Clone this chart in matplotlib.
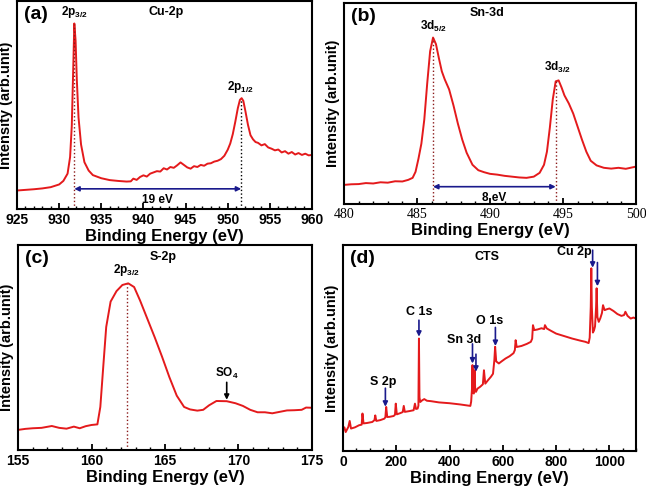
import numpy as np
import matplotlib.pyplot as plt
from matplotlib.ticker import MultipleLocator

plt.rcParams["font.family"] = "Liberation Sans"
plt.rcParams["font.weight"] = "bold"
plt.rcParams["mathtext.fontset"] = "custom"
plt.rcParams["mathtext.rm"] = "Liberation Sans:bold"
plt.rcParams["mathtext.bf"] = "Liberation Sans:bold"
plt.rcParams["mathtext.default"] = "bf"

# (a) Cu-2p
cu_x = [925, 926, 927, 928, 929, 930, 930.5, 931, 931.3, 931.5, 931.7, 931.8, 931.95, 932.1, 932.3, 932.6,
        933, 933.5, 934, 935, 936, 937, 938, 938.5, 938.8, 939.2, 939.6, 940, 940.4, 940.8, 941.2, 941.6,
        942, 942.4, 942.8, 943.2, 943.6, 944, 944.4, 944.8, 945.2, 945.6, 946, 946.4, 946.8, 947.2, 947.6,
        948, 948.4, 948.8, 949.2, 949.6, 950, 950.3, 950.6, 950.9, 951.2, 951.45, 951.65, 951.85, 952.1,
        952.4, 952.7, 953, 953.3, 953.6, 954, 954.4, 954.8, 955.2, 955.6, 956, 956.4, 956.8, 957.2, 957.6,
        958, 958.4, 958.8, 959.2, 959.6, 960]
cu_y = [8.9, 9.2, 9.5, 9.9, 10.5, 11.8, 13.5, 17, 25, 40, 72, 89.2, 81, 62, 44, 31,
        22.5, 18.5, 16.3, 14.8, 13.9, 13.5, 13.2, 13.3, 14.6, 14.0, 15.4, 16.2, 15.6, 17.0, 17.6, 18.2,
        18.0, 19.6, 19.0, 20.2, 19.8, 21.0, 22.4, 21.2, 20.0, 19.4, 20.6, 20.2, 21.2, 20.8, 21.8,
        22.0, 22.8, 23.2, 24.0, 25.6, 28.5, 31.5, 36, 42, 48.5, 52.5, 53.3, 52.0, 47,
        40.5, 35.5, 33.5, 32.2, 31.8, 30.6, 31.2, 29.6, 29.0, 28.2, 28.6, 27.2, 27.8, 26.6, 27.4,
        26.2, 26.9, 26.0, 26.6, 25.8, 26.0]

# (b) Sn-3d
sn_x = [480, 480.5, 481, 481.5, 482, 482.5, 483, 483.5, 484, 484.4, 484.7, 484.9, 485.1, 485.3, 485.5,
        485.7, 485.9, 486.1, 486.3, 486.5, 486.7, 486.9, 487.2, 487.5, 487.8, 488.1, 488.4, 488.8, 489.2,
        489.6, 490, 490.5, 491, 491.5, 492, 492.5, 493, 493.4, 493.7, 493.9, 494.1, 494.3, 494.5, 494.7,
        494.9, 495.1, 495.4, 495.7, 496, 496.3, 496.6, 496.9, 497.3, 497.8, 498.3, 498.8, 499.3, 500]
sn_y = [9.5, 9.8, 9.9, 10.4, 10.2, 10.8, 10.6, 11.3, 11.2, 12.0, 13.0, 16.0, 22.5, 30.0, 42,
        60, 76, 82.8, 79.5, 72.5, 66, 62, 57, 49, 40, 32, 25.5, 19.5, 16.8,
        15.8, 15.0, 14.6, 14.0, 13.6, 13.2, 13.0, 13.6, 15.5, 19.5, 26, 38, 52, 61, 61.5,
        58, 54, 50, 45, 38.5, 32, 26, 21.5, 19.2, 18.0, 17.6, 18.0, 17.5, 18.6]

# (c) S-2p
s_x = [155, 155.5, 156, 156.6, 157.3, 157.8, 158.3, 158.8, 159.2, 159.6, 160, 160.4, 160.6, 160.8, 161,
       161.3, 161.7, 162.1, 162.5, 162.9, 163.3, 163.8, 164.3, 164.8, 165.3, 165.8, 166.3, 166.7, 167.2,
       167.6, 168, 168.5, 169.2, 169.8, 170.3, 170.8, 171.3, 171.8, 172.3, 172.8, 173.3, 173.8, 174.3,
       174.6, 175]
s_y = [9.8, 10.3, 10.6, 10.8, 11.7, 10.8, 10.4, 11.4, 10.6, 11.6, 12.2, 12.5, 21, 40.7, 60,
       72.4, 77.5, 80.5, 81.3, 79.5, 73, 64, 55, 45.5, 35.5, 26.5, 21, 19.8, 19.2,
       19.6, 21.8, 23.9, 23.8, 22.8, 21.5, 19.6, 18.4, 18.4, 17.9, 18.6, 19.3, 19.4, 19.6,
       20.7, 20.6]

# (d) survey
cts_x = [0, 5, 10, 20, 25, 30, 45, 60, 70, 73, 77, 90, 110, 118, 121, 125, 140, 155, 159, 162, 166, 175,
         190, 195, 198, 202, 215, 224, 228, 232, 250, 265, 270, 274, 280, 283, 285, 287, 290, 297, 305,
         315, 330, 360, 400, 440, 478, 481, 484, 486, 488, 491, 494, 496, 499, 505, 515, 525, 529, 531,
         534, 545, 555, 563, 568, 571, 575, 585, 595, 610, 625, 640, 645, 648, 652, 670, 690, 705, 710,
         713, 718, 730, 745, 755, 758, 765, 780, 800, 830, 860, 890, 910, 922, 926, 930, 932, 934, 938,
         942, 946, 950, 952, 955, 960, 966, 972, 976, 982, 990, 1000, 1015, 1030, 1045, 1055, 1060,
         1068, 1080, 1090, 1100]
cts_y = [10, 11.5, 9.2, 11.7, 14.6, 10.9, 11.5, 12.5, 12.8, 18.2, 13.4, 13.6, 14.1, 15.0, 17.3, 14.6,
         15.0, 15.7, 16.4, 21.4, 16.5, 16.6, 17.0, 17.6, 23.0, 17.8, 18.4, 18.9, 21.9, 19.0, 19.4,
         19.8, 23.0, 20.4, 20.6, 22.0, 54.6, 26.0, 23.8, 24.6, 25.2, 24.4, 24.2, 23.6, 23.2, 22.6, 21.9,
         24.0, 30, 41.7, 28.5, 27.9, 39.2, 30.5, 28.7, 30.3, 31.2, 32.4, 39.2, 36.5, 32.7, 34.5, 36.0,
         37.5, 44, 50.6, 43.5, 42.5, 43.5, 44.9, 46.0, 47.5, 49, 53.8, 50.5, 51.0, 52.0, 53.0, 54.5,
         61.1, 58.7, 59.0, 59.6, 59.2, 61.1, 59.5, 58.4, 57.0, 55.8, 54.6, 53.6, 53.0, 52.4, 55,
         70, 88.7, 70, 57.5, 58.5, 60.5, 70, 79, 65, 62.7, 64.5, 67.0, 70.8, 68.4, 68.8, 69.2, 68.0,
         66.5, 65.6, 66.0, 67.6, 65.6, 64.3, 64.8, 64.3]

red = "#e41a1c"
navy = "#1a1a8c"
dred = "#8b1a1a"

fig = plt.figure(figsize=(6.46, 4.88), dpi=100)
ax_a = fig.add_axes([0.0263, 0.5717, 0.4567, 0.4262])
ax_b = fig.add_axes([0.5325, 0.582, 0.452, 0.4119])
ax_c = fig.add_axes([0.0279, 0.0779, 0.455, 0.42])
ax_d = fig.add_axes([0.531, 0.0758, 0.4536, 0.4221])


def style(ax, xlim, major, minor, letter):
    ax.set_xlim(*xlim)
    ax.set_ylim(0, 100)
    ax.set_yticks([])
    ax.xaxis.set_major_locator(MultipleLocator(major))
    ax.xaxis.set_minor_locator(MultipleLocator(minor))
    ax.tick_params(axis="x", which="major", direction="in", length=4, width=1.3, labelsize=10, pad=3)
    ax.tick_params(axis="x", which="minor", direction="in", length=2, width=1)
    for sp in ax.spines.values():
        sp.set_linewidth(1.5)
    ax.set_xlabel("Binding Energy (eV)", fontsize=12, fontweight="bold", labelpad=1)
    ax.set_ylabel("Intensity (arb.unit)", fontsize=10.5, fontweight="bold", labelpad=3)
    ax.text(0.025, 0.975, letter, transform=ax.transAxes, fontsize=14, fontweight="bold",
            ha="left", va="top")


def arrow(ax, x1, x2, y):
    ax.annotate("", xy=(x1, y), xytext=(x2, y),
                arrowprops=dict(arrowstyle="<|-|>", color=navy, lw=1.2, mutation_scale=7,
                                shrinkA=0, shrinkB=0))


def down(ax, x, y1, y2, color=navy):
    ax.annotate("", xy=(x, y2), xytext=(x, y1),
                arrowprops=dict(arrowstyle="-|>", color=color, lw=1.2, mutation_scale=7,
                                shrinkA=0, shrinkB=0))


# (a)
ax_a.plot(cu_x, cu_y, color=red, lw=1.4)
style(ax_a, (925, 960), 5, 1, "(a)")
ax_a.vlines(931.8, 0, 89, colors=dred, linestyles=":", lw=1)
ax_a.vlines(951.6, 0, 53, colors="black", linestyles=":", lw=1)
arrow(ax_a, 931.8, 951.6, 9.7)
ax_a.text(941.7, 7.2, "19 eV", fontsize=8.5, ha="center", va="top")
ax_a.text(931.8, 91, "2p$_{3/2}$", fontsize=8.5, ha="center", va="bottom")
ax_a.text(951.5, 55, "2p$_{1/2}$", fontsize=8.5, ha="center", va="bottom")
ax_a.text(942.7, 94.5, "Cu-2p", fontsize=9, ha="center", va="center")

# (b)
ax_b.plot(sn_x, sn_y, color=red, lw=1.4)
style(ax_b, (480, 500), 5, 1, "(b)")
for lab in ax_b.get_xticklabels():
    lab.set_fontfamily("Liberation Serif")
    lab.set_fontweight("normal")
ax_b.vlines(486.1, 0, 82.5, colors=dred, linestyles=":", lw=1)
ax_b.vlines(494.5, 0, 61, colors=dred, linestyles=":", lw=1)
arrow(ax_b, 486.1, 494.5, 8.6)
ax_b.text(490.3, 6.2, "8 eV", fontsize=8.5, ha="center", va="top")
ax_b.text(486.1, 84.5, "3d$_{5/2}$", fontsize=8.5, ha="center", va="bottom")
ax_b.text(494.6, 64, "3d$_{3/2}$", fontsize=8.5, ha="center", va="bottom")
ax_b.text(489.8, 95, "Sn-3d", fontsize=9, ha="center", va="center")

# (c)
ax_c.plot(s_x, s_y, color=red, lw=1.4)
style(ax_c, (155, 175), 5, 1, "(c)")
ax_c.vlines(162.4, 0, 81, colors=dred, linestyles=":", lw=1)
ax_c.text(162.4, 84, "2p$_{3/2}$", fontsize=8.5, ha="center", va="bottom")
ax_c.text(169.2, 33.5, "SO$_{4}$", fontsize=8.5, ha="center", va="bottom")
down(ax_c, 169.2, 33, 24.5, color="black")
ax_c.text(164.9, 94, "S-2p", fontsize=9, ha="center", va="center")

# (d)
ax_d.plot(cts_x, cts_y, color=red, lw=1.4)
style(ax_d, (0, 1100), 200, 50, "(d)")
down(ax_d, 159, 30.5, 21.5)
ax_d.text(152, 30.5, "S 2p", fontsize=9, ha="center", va="bottom")
down(ax_d, 285, 63.5, 55.5)
ax_d.text(285, 64.5, "C 1s", fontsize=9, ha="center", va="bottom")
down(ax_d, 486, 52, 42.5)
down(ax_d, 499, 47, 38.5)
ax_d.text(455, 51, "Sn 3d", fontsize=9, ha="center", va="bottom")
down(ax_d, 572, 60, 51)
ax_d.text(552, 60, "O 1s", fontsize=9, ha="center", va="bottom")
down(ax_d, 937, 97.5, 89)
down(ax_d, 955, 91.5, 80)
ax_d.text(870, 93.5, "Cu 2p", fontsize=9, ha="center", va="bottom")
ax_d.text(540, 94, "CTS", fontsize=9, ha="center", va="center")

fig.savefig("out.png", dpi=100)
